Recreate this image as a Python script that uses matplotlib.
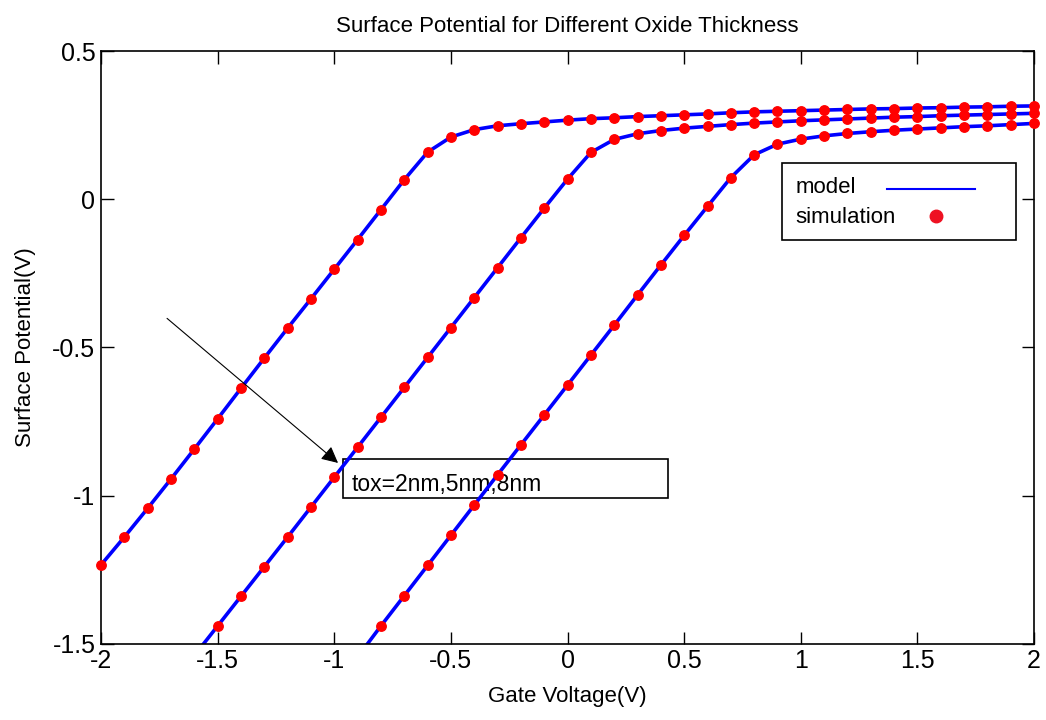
import numpy as np
import matplotlib.pyplot as plt
from matplotlib.lines import Line2D
from matplotlib.patches import Rectangle

plt.rcParams['font.family'] = ['Liberation Sans', 'DejaVu Sans']

gate_v = [-2.0, -1.9, -1.8, -1.7, -1.6, -1.5, -1.4, -1.3, -1.2, -1.1,
          -1.0, -0.9, -0.8, -0.7, -0.6, -0.5, -0.4, -0.3, -0.2, -0.1,
          0.0, 0.1, 0.2, 0.3, 0.4, 0.5, 0.6, 0.7, 0.8, 0.9,
          1.0, 1.1, 1.2, 1.3, 1.4, 1.5, 1.6, 1.7, 1.8, 1.9, 2.0]

nan = np.nan
# tox = 2nm
psi_2nm = [-1.234, -1.140, -1.043, -0.944, -0.843, -0.741, -0.638, -0.536, -0.435, -0.336,
           -0.236, -0.136, -0.035, 0.066, 0.159, 0.210, 0.235, 0.248, 0.255, 0.261,
           0.267, 0.272, 0.275, 0.279, 0.282, 0.285, 0.288, 0.292, 0.295, 0.297,
           0.299, 0.301, 0.303, 0.305, 0.306, 0.308, 0.309, 0.311, 0.312, 0.314, 0.315]
# tox = 5nm
psi_5nm = [nan, nan, nan, nan, -1.540, -1.440, -1.340, -1.240, -1.140, -1.039,
           -0.938, -0.837, -0.736, -0.635, -0.534, -0.433, -0.332, -0.231, -0.130, -0.030,
           0.068, 0.158, 0.202, 0.221, 0.232, 0.240, 0.246, 0.252, 0.257, 0.261,
           0.265, 0.268, 0.271, 0.274, 0.277, 0.279, 0.282, 0.284, 0.286, 0.288, 0.290]
# tox = 8nm
psi_8nm = [nan, nan, nan, nan, nan, nan, nan, nan, nan, nan,
           nan, -1.545, -1.440, -1.338, -1.236, -1.134, -1.032, -0.930, -0.829, -0.728,
           -0.627, -0.526, -0.425, -0.323, -0.222, -0.122, -0.024, 0.073, 0.150, 0.186,
           0.203, 0.214, 0.222, 0.228, 0.233, 0.237, 0.241, 0.245, 0.248, 0.252, 0.256]

x_ticks = [-2, -1.5, -1, -0.5, 0, 0.5, 1, 1.5, 2]
y_ticks = [-1.5, -1, -0.5, 0, 0.5]

fig = plt.figure(figsize=(10.46, 7.2), dpi=100)
ax = fig.add_axes([0.0966, 0.106, 0.892, 0.823])

x = np.array(gate_v)
for psi in (psi_2nm, psi_5nm, psi_8nm):
    y = np.array(psi)
    ax.plot(x, y, color='#0000ff', lw=2.6, zorder=2)
    keep = y >= -1.5
    ax.plot(x[keep], y[keep], 'o', color='#ff0000', ms=6.8, mec='#ff0000',
            clip_on=False, zorder=3)

ax.set_xlim(-2, 2)
ax.set_ylim(-1.5, 0.5)
ax.set_xticks(x_ticks)
ax.set_xticklabels(['-2', '-1.5', '-1', '-0.5', '0', '0.5', '1', '1.5', '2'])
ax.set_yticks(y_ticks)
ax.set_yticklabels(['-1.5', '-1', '-0.5', '0', '0.5'])
ax.tick_params(direction='in', length=9, width=1, top=True, right=True,
               labelsize=18, pad=4)
for s in ax.spines.values():
    s.set_linewidth(1.2)

ax.set_title('Surface Potential for Different Oxide Thickness', fontsize=16, pad=14)
ax.set_xlabel('Gate Voltage(V)', fontsize=16, labelpad=9)
ax.set_ylabel('Surface Potential(V)', fontsize=16, labelpad=12)

# legend drawn by hand: text on the left, sample on the right, MATLAB style
tr = ax.transAxes
ax.add_patch(Rectangle((0.730, 0.682), 0.251, 0.130, transform=tr, fill=False,
                       edgecolor='black', lw=1.2, zorder=4))
ax.text(0.744, 0.770, 'model', transform=tr, fontsize=16, va='center', zorder=4)
ax.text(0.744, 0.719, 'simulation', transform=tr, fontsize=16, va='center', zorder=4)
ax.add_line(Line2D([0.842, 0.937], [0.768, 0.768], transform=tr,
                   color='#0000ff', lw=1.5, zorder=4))
ax.add_line(Line2D([0.895], [0.721], transform=tr, ls='none', marker='o',
                   color='#ee1122', ms=9, zorder=4))

ax.add_patch(Rectangle((-0.962, -1.009), 1.393, 0.132, fill=False,
                       edgecolor='black', lw=1.2, zorder=1))
ax.text(-0.925, -0.962, 'tox=2nm,5nm,8nm', fontsize=16.5, va='center', ha='left',
        zorder=1)
ax.annotate('', xy=(-0.984, -0.890), xytext=(-1.717, -0.402),
            arrowprops=dict(arrowstyle='-|>', color='black', lw=0.8,
                            mutation_scale=25, shrinkA=0, shrinkB=0))

fig.savefig('out.png', dpi=100)
